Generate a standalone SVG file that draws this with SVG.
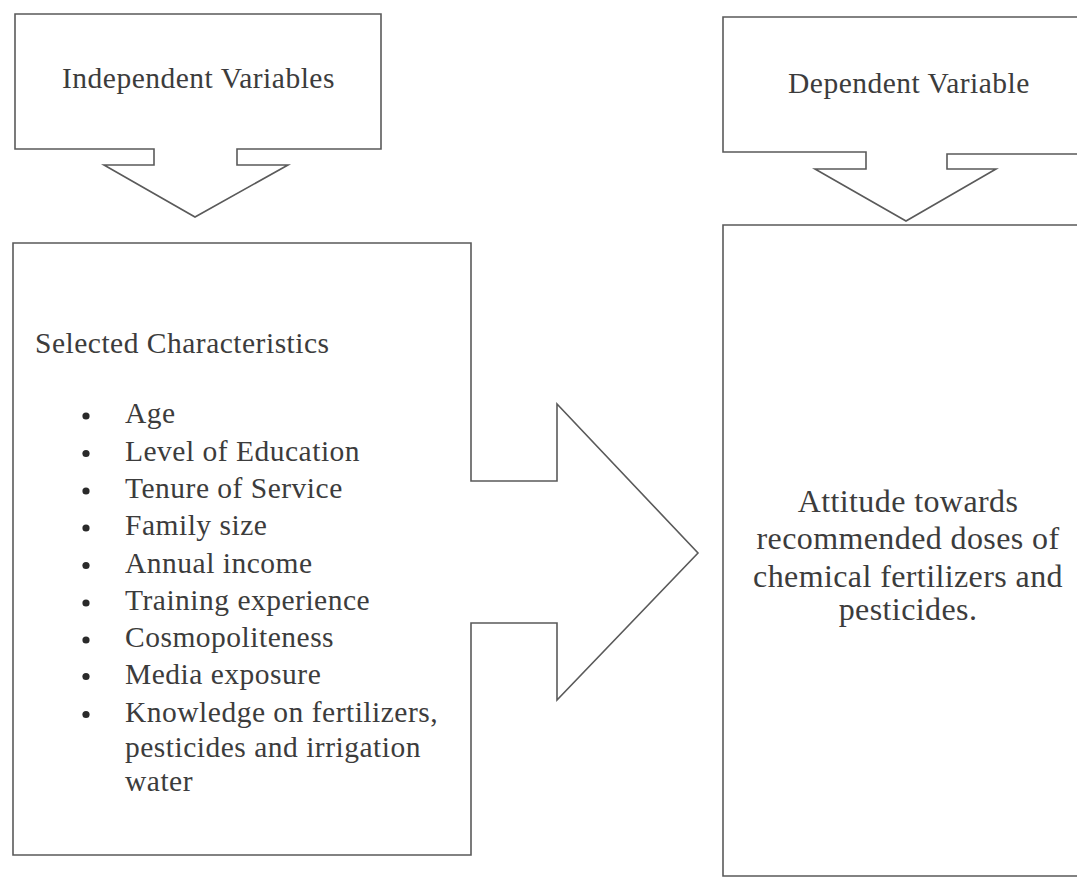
<svg xmlns="http://www.w3.org/2000/svg" width="1077" height="880" viewBox="0 0 1077 880">
<style>
.shape{fill:none;stroke:#5a5a5a;stroke-width:1.6;stroke-linejoin:miter}
.t{font-family:"Liberation Serif","Times New Roman",serif;font-size:29.5px;letter-spacing:0.5px;fill:#3c3c3c}
.r{font-family:"Liberation Serif","Times New Roman",serif;font-size:32px;letter-spacing:0.4px;fill:#3c3c3c;text-anchor:middle}
.b{fill:#2a2a2a}
</style>
<rect width="1077" height="880" fill="#ffffff"/>
<g id="independent-variables">
<path class="shape" d="M15,14 H381 V149 H237 V165 H288 L195,217 L104,165 H154 V149 H15 Z"/>
<text class="t" x="62" y="88">Independent Variables</text>
</g>
<g id="dependent-variable">
<path class="shape" d="M723,17 H1080 V154 H947 V169 H996 L906,221 L815,169 H866 V152 H723 Z"/>
<text class="t" x="788" y="93">Dependent Variable</text>
</g>
<g id="selected-characteristics">
<path class="shape" d="M13,243 H471 V481 H557 V404 L698,553 L557,700 V623 H471 V855 H13 Z"/>
<text class="t" x="35" y="353">Selected Characteristics</text>
<g class="b">
<circle cx="86" cy="416" r="3.6"/>
<circle cx="86" cy="453.5" r="3.6"/>
<circle cx="86" cy="491" r="3.6"/>
<circle cx="86" cy="528" r="3.6"/>
<circle cx="86" cy="565.5" r="3.6"/>
<circle cx="86" cy="603" r="3.6"/>
<circle cx="86" cy="640" r="3.6"/>
<circle cx="86" cy="676.5" r="3.6"/>
<circle cx="86" cy="714.5" r="3.6"/>
</g>
<text class="t" x="125" y="423">Age</text>
<text class="t" x="125" y="460.5">Level of Education</text>
<text class="t" x="125" y="498">Tenure of Service</text>
<text class="t" x="125" y="535">Family size</text>
<text class="t" x="125" y="572.5">Annual income</text>
<text class="t" x="125" y="610">Training experience</text>
<text class="t" x="125" y="647">Cosmopoliteness</text>
<text class="t" x="125" y="683.5">Media exposure</text>
<text class="t" x="125" y="721.5">Knowledge on fertilizers,</text>
<text class="t" x="125" y="757">pesticides and irrigation</text>
<text class="t" x="125" y="791">water</text>
</g>
<g id="attitude">
<path class="shape" d="M1080,225 H723 V876 H1080"/>
<text class="r" x="908" y="512">Attitude towards</text>
<text class="r" x="908" y="549">recommended doses of</text>
<text class="r" x="908" y="586.5">chemical fertilizers and</text>
<text class="r" x="908" y="620">pesticides.</text>
</g>
<g id="connectors"></g>
</svg>
